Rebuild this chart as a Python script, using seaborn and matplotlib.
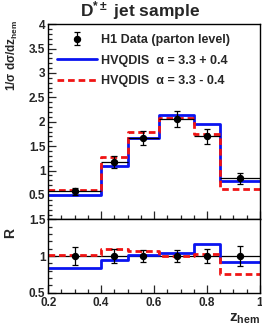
import numpy as np
import pandas as pd
import matplotlib
matplotlib.use("Agg")
import matplotlib.pyplot as plt
from matplotlib.ticker import MultipleLocator, FormatStrFormatter
import seaborn as sns

# binning in z_hem
edges = [0.2, 0.4, 0.5, 0.62, 0.75, 0.85, 1.0]

# H1 data (parton level)
data = [0.58, 1.17, 1.67, 2.06, 1.70, 0.84]
data_err = [0.07, 0.12, 0.14, 0.16, 0.16, 0.11]

# HVQDIS predictions
hvq_up = [0.50, 1.09, 1.67, 2.14, 1.96, 0.79]
hvq_dn = [0.60, 1.28, 1.80, 2.07, 1.74, 0.63]

# ratio panel
r_data = [1.0, 1.0, 1.0, 1.0, 1.0, 1.0]
r_err = [0.12, 0.09, 0.08, 0.08, 0.095, 0.14]
r_up = [0.84, 0.94, 1.01, 1.045, 1.16, 0.92]
r_dn = [1.01, 1.095, 1.07, 1.0, 1.03, 0.76]

sns.set_style("ticks")
plt.rcParams["font.family"] = ["Liberation Sans", "DejaVu Sans"]
plt.rcParams["font.weight"] = "bold"
plt.rcParams["mathtext.fontset"] = "custom"
plt.rcParams["mathtext.rm"] = "Liberation Sans:bold"
plt.rcParams["mathtext.bf"] = "Liberation Sans:bold"
plt.rcParams["mathtext.it"] = "Liberation Sans:bold"

centers = [(a + b) / 2 for a, b in zip(edges[:-1], edges[1:])]
halfw = [(b - a) / 2 for a, b in zip(edges[:-1], edges[1:])]


def steps(vals):
    return pd.DataFrame({"z": edges, "v": list(vals) + [vals[-1]]})


W, H = 262, 326
fig = plt.figure(figsize=(W / 100, H / 100), dpi=100)
ax = fig.add_axes([0.184, 0.327, 0.808, 0.599])
axr = fig.add_axes([0.184, 0.102, 0.808, 0.225])

blue = "#0a14f0"
red = "#f01414"
dash = (0, (2.4, 1.4))

# main panel
sns.lineplot(data=steps(hvq_up), x="z", y="v", drawstyle="steps-post",
             color=blue, lw=2.0, ax=ax, label="HVQDIS  α = 3.3 + 0.4")
sns.lineplot(data=steps(hvq_dn), x="z", y="v", drawstyle="steps-post",
             color=red, lw=2.0, linestyle=dash, ax=ax,
             label="HVQDIS  α = 3.3 - 0.4")
ax.errorbar(centers, data, xerr=halfw, fmt="none", ecolor="black", elinewidth=0.9)
ax.errorbar(centers, data, yerr=data_err, fmt="o", color="black", ms=4.3,
            elinewidth=0.9, capsize=2.5, capthick=0.9,
            label="H1 Data (parton level)")

# ratio panel
axr.axhline(1.0, color="black", lw=0.9)
sns.lineplot(data=steps(r_up), x="z", y="v", drawstyle="steps-post",
             color=blue, lw=2.0, ax=axr)
sns.lineplot(data=steps(r_dn), x="z", y="v", drawstyle="steps-post",
             color=red, lw=2.0, linestyle=dash, ax=axr)
axr.errorbar(centers, r_data, yerr=r_err, fmt="o", color="black", ms=4.3,
             elinewidth=0.9, capsize=2.5, capthick=0.9)

h, l = ax.get_legend_handles_labels()
order = [l.index("H1 Data (parton level)"), l.index("HVQDIS  α = 3.3 + 0.4"),
         l.index("HVQDIS  α = 3.3 - 0.4")]
ax.legend([h[i] for i in order], [l[i] for i in order], loc="upper left",
          bbox_to_anchor=(0.02, 0.975), frameon=False, borderaxespad=0,
          handlelength=3.2, handletextpad=0.3, labelspacing=0.68,
          prop={"size": 9, "weight": "bold"})

for a in (ax, axr):
    a.set_xlim(0.2, 1.0)
    a.xaxis.set_major_locator(MultipleLocator(0.2))
    a.xaxis.set_minor_locator(MultipleLocator(0.05))
    a.xaxis.set_major_formatter(FormatStrFormatter("%g"))
    a.yaxis.set_major_formatter(FormatStrFormatter("%g"))
    a.tick_params(which="both", direction="in", top=False, right=False,
                  labelsize=8.5, pad=2, width=0.9)
    a.tick_params(which="major", length=5.5)
    a.tick_params(which="minor", length=3)
    for s in a.spines.values():
        s.set_linewidth(1.0)
        s.set_color("black")
    a.set_xlabel("")
    a.set_ylabel("")

ax.set_ylim(0, 4)
ax.set_yticks([0.5, 1, 1.5, 2, 2.5, 3, 3.5, 4])
ax.yaxis.set_minor_locator(MultipleLocator(0.1))
ax.tick_params(axis="x", labelbottom=False)

axr.set_ylim(0.5, 1.5)
axr.set_yticks([0.5, 1, 1.5])
axr.yaxis.set_minor_locator(MultipleLocator(0.1))
axr.tick_params(axis="x", pad=3)

fig.text(12 / W, 1 - 20 / H, "1/σ dσ/dz$_{\\mathbf{hem}}$", rotation=90,
         ha="center", va="top", fontsize=8.5, fontweight="bold")
fig.text(10 / W, 1 - 233 / H, "R", rotation=90, ha="center", va="center",
         fontsize=10, fontweight="bold")
fig.text(260 / W, 1 - 319 / H, "z$_{\\mathbf{hem}}$", ha="right", va="center",
         fontsize=11, fontweight="bold")
fig.text(0.534, 1 - 11 / H, "D$^{*\\pm}$ jet sample", ha="center", va="center",
         fontsize=12.5, fontweight="bold")

fig.savefig("out.png", dpi=100)
